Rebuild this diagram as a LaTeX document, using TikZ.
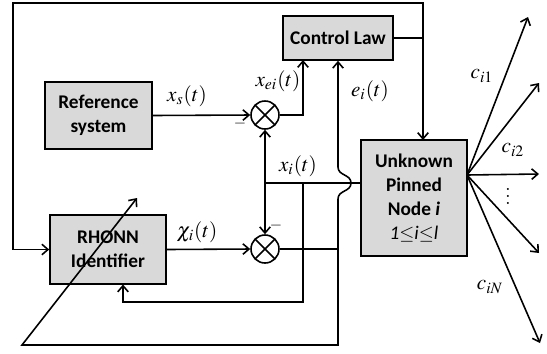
\documentclass[tikz,border=0pt]{standalone}
\usepackage{mathptmx}
\usepackage{fontspec}
\setsansfont{Carlito}
\usetikzlibrary{arrows.meta}

\tikzstyle{block}=[draw, fill=black!15, inner sep=0pt, align=center,
  font=\sffamily\bfseries\fontsize{11}{13.5}\selectfont]
\tikzstyle{ctrl} =[block, minimum width=2.2cm,  minimum height=0.88cm]
\tikzstyle{refs} =[block, minimum width=2.14cm, minimum height=1.34cm]
\tikzstyle{ident}=[block, minimum width=2.32cm, minimum height=1.38cm]
\tikzstyle{plant}=[block, minimum width=2.12cm, minimum height=2.32cm]
\tikzstyle{sum}  =[draw, circle, minimum size=0.56cm, inner sep=0pt,
  path picture={\draw (path picture bounding box.south west) -- (path picture bounding box.north east)
                      (path picture bounding box.north west) -- (path picture bounding box.south east);}]
\tikzstyle{lbl}  =[font=\fontsize{12}{14}\selectfont, inner sep=0pt]

\begin{document}
\begin{tikzpicture}[x=0.02cm, y=-0.02cm, line width=0.9pt, >={Straight Barb[length=3.5pt,width=6pt]}]
    \useasboundingbox (0,0) rectangle (547,353);

    % blocks
    \node[ctrl]  (ctrl)  at (338, 38)    {Control Law};
    \node[refs]  (ref)   at (98.5, 115.5) {Reference\\system};
    \node[ident] (rhonn) at (108, 249.5)  {RHONN\\Identifier};
    \node[plant, font=\sffamily\bfseries\fontsize{11}{13.6}\selectfont] (unk) at (414, 198)
      {Unknown\\Pinned\\Node \textit{i}\\{\mdseries\textit{1}$\leq$\textit{i}$\leq$\textit{l}}};
    \node[sum]   (sum1)  at (265, 115) {};
    \node[sum]   (sum2)  at (265, 249) {};

    % turning points
    \coordinate (tl)   at (13, 3);
    \coordinate (unkin) at (423, 140);
    \coordinate (xi)   at (265, 183);
    \coordinate (xib)  at (303, 183);
    \coordinate (fb)   at (303, 302);
    \coordinate (rhin) at (123, 284.5);
    \coordinate (ej)   at (338, 249);
    \coordinate (wl)   at (22, 345);
    \coordinate (wtip) at (137, 198);
    \coordinate (hub)  at (467, 175);

    % control signal
    \draw[->] (ctrl.east) -| (unkin);
    \draw[->] (ctrl.east -| unkin) |- (tl) |- (rhonn.west);

    % reference and errors
    \draw[->] (ref.east) -- (sum1.west);
    \draw[->] (sum1.east) -| (303, 60);
    \draw[->] (rhonn.east) -- (sum2.west);
    \draw (unk.west |- xi) -- (xi);
    \draw[->] (xi) -- (sum1.south);
    \draw[->] (xi) -- (sum2.north);
    \draw[->] (xib) -- (fb) -| (rhin);
    \draw (sum2.east) -- (ej);
    \draw[->] (ej) -- (338, 199) .. controls (338, 190) and (351, 192) .. (351, 183)
      .. controls (351, 174) and (338, 176) .. (338, 167) -- (ctrl.south);
    \draw[->] (ej) |- (wl) -- (wtip);

    % couplings
    \foreach \x/\y [count=\k] in {528/17, 539/83, 539/174, 539/253, 540/343} {
      \coordinate (out\k) at (\x, \y);
      \draw[->] (hub) -- (out\k);
    }

    % labels
    \node[lbl] (lxs)  at (187, 96)  {$x_s(t)$};
    \node[lbl] (lxei) at (278, 81)  {$x_{ei}(t)$};
    \node[lbl] (lei)  at (370, 91)  {$e_i(t)$};
    \node[lbl] (lxi)  at (298, 166) {$x_i(t)$};
    \node[lbl] (lchi) at (197, 232) {$\chi_i(t)$};
    \node[lbl, font=\small] (m1) at (240, 124) {$-$};
    \node[lbl, font=\small] (m2) at (276, 226) {$-$};
    \node[lbl] (c1) at (482, 76)  {$c_{i1}$};
    \node[lbl] (c2) at (513, 150) {$c_{i2}$};
    \node[lbl] (cd) at (508, 191) {$\vdots$};
    \node[lbl] (cN) at (490, 287) {$c_{iN}$};
\end{tikzpicture}
\end{document}
